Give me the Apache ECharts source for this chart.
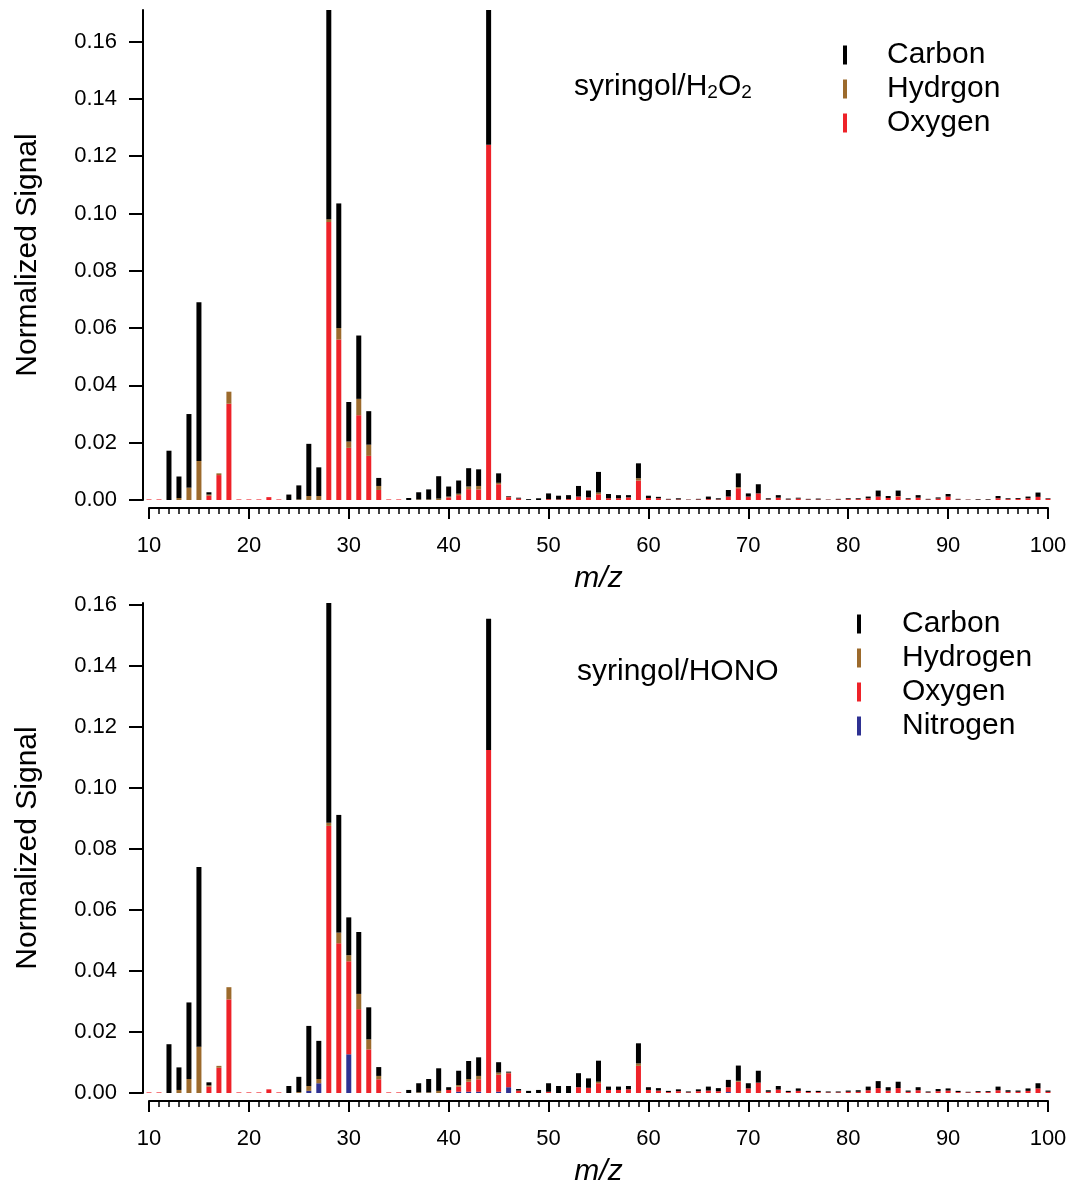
<!DOCTYPE html>
<html>
<head>
<meta charset="utf-8">
<script src="https://cdn.jsdelivr.net/npm/echarts@6/dist/echarts.min.js"></script>
<style>
html,body{margin:0;padding:0;background:#fff;}
#main{width:1073px;height:1188px;}
</style>
</head>
<body>
<div id="main"></div>
<script>
// m/z positions
var mz = [10,11,12,13,14,15,16,17,18,19,20,21,22,23,24,25,26,27,28,29,30,31,32,33,34,35,36,37,38,39,40,41,42,43,44,45,46,47,48,49,50,51,52,53,54,55,56,57,58,59,60,61,62,63,64,65,66,67,68,69,70,71,72,73,74,75,76,77,78,79,80,81,82,83,84,85,86,87,88,89,90,91,92,93,94,95,96,97,98,99,100];

// Top panel: syringol/H2O2
var h2o2_C = [0,0,0.0172,0.0075,0.0257,0.0554,0.0008,0,0,0,0,0,0,0,0.0019,0.0049,0.0182,0.0100,0.0900,0.0435,0.0138,0.0221,0.0117,0.0028,0,0,0.0007,0.0025,0.0035,0.0078,0.0035,0.0046,0.0064,0.0058,0.0800,0.0033,0.0002,0.0003,0.0003,0.0006,0.0020,0.0013,0.0014,0.0037,0.0024,0.0072,0.0015,0.0011,0.0008,0.0052,0.0008,0.0005,0.0002,0.0004,0.0001,0.0002,0.0009,0.0004,0.0023,0.0048,0.0011,0.0032,0.0004,0.0009,0.0003,0.0003,0.0002,0.0003,0.0001,0.0002,0.0003,0.0003,0.0006,0.0021,0.0007,0.0019,0.0003,0.0009,0.0002,0.0004,0.0009,0.0002,0.0001,0.0002,0.0002,0.0008,0.0003,0.0003,0.0006,0.0015,0.0002];
var h2o2_H = [0,0,0,0.0007,0.0043,0.0136,0.0004,0.0006,0.0042,0,0,0,0,0,0,0.0002,0.0014,0.0014,0.0010,0.0040,0.0022,0.0057,0.0039,0.0014,0,0,0,0.0002,0.0002,0.0005,0.0003,0.0005,0.0009,0.0012,0,0.0005,0.0002,0,0,0,0,0,0,0,0,0.0006,0,0,0,0.0008,0,0,0,0,0,0,0,0,0,0.0004,0,0,0,0,0,0,0,0,0,0,0,0,0,0,0,0.0002,0,0,0,0,0,0,0,0,0,0,0,0,0,0,0];
var h2o2_O = [0.0002,0.0002,0,0,0,0,0.0015,0.0087,0.0336,0.0002,0.0002,0.0002,0.0010,0.0002,0,0,0,0,0.0970,0.0560,0.0182,0.0296,0.0154,0.0035,0.0002,0.0002,0,0,0,0,0.0009,0.0017,0.0038,0.0037,0.1240,0.0055,0.0010,0.0005,0,0,0.0003,0.0002,0.0003,0.0012,0.0009,0.0020,0.0006,0.0006,0.0009,0.0068,0.0007,0.0006,0.0002,0.0002,0.0001,0.0002,0.0003,0.0002,0.0012,0.0041,0.0012,0.0023,0.0002,0.0008,0.0002,0.0005,0.0002,0.0002,0.0001,0.0002,0.0003,0.0003,0.0006,0.0012,0.0007,0.0012,0.0003,0.0008,0.0002,0.0005,0.0012,0.0002,0.0001,0.0001,0.0001,0.0006,0.0003,0.0004,0.0006,0.0011,0.0004];

// Bottom panel: syringol/HONO
var hono_C = [0,0,0.0160,0.0074,0.0251,0.0589,0.0010,0,0,0,0,0,0,0,0.0023,0.0050,0.0197,0.0125,0.0900,0.0386,0.0124,0.0203,0.0105,0.0029,0,0,0.0010,0.0030,0.0044,0.0074,0.0009,0.0047,0.0059,0.0061,0.0430,0.0034,0.0003,0.0005,0.0007,0.0010,0.0028,0.0023,0.0023,0.0046,0.0031,0.0069,0.0011,0.0011,0.0011,0.0066,0.0009,0.0008,0.0004,0.0006,0.0003,0.0006,0.0013,0.0010,0.0024,0.0050,0.0017,0.0039,0.0005,0.0012,0.0004,0.0008,0.0004,0.0004,0.0003,0.0003,0.0004,0.0005,0.0012,0.0023,0.0011,0.0021,0.0004,0.0010,0.0003,0.0007,0.0007,0.0004,0.0002,0.0003,0.0003,0.0012,0.0005,0.0004,0.0008,0.0017,0.0004];
var hono_H = [0,0,0,0.0010,0.0046,0.0152,0.0004,0.0006,0.0040,0,0,0,0,0,0,0.0003,0.0016,0.0014,0.0010,0.0035,0.0020,0.0050,0.0033,0.0011,0,0,0,0.0002,0.0002,0.0007,0,0.0005,0.0009,0.0011,0,0.0007,0.0002,0,0,0,0,0,0,0,0,0.0005,0,0,0,0.0008,0,0,0,0,0,0,0,0,0,0.0003,0,0,0,0,0,0,0,0,0,0,0,0,0,0,0,0,0,0,0,0,0,0,0,0,0,0,0,0,0,0,0];
var hono_O = [0.0002,0.0002,0,0,0,0,0.0021,0.0083,0.0307,0.0002,0.0002,0.0002,0.0012,0.0002,0,0,0,0,0.0876,0.0491,0.0305,0.0275,0.0143,0.0045,0.0002,0.0002,0,0,0,0,0.0010,0.0017,0.0033,0.0041,0.1125,0.0056,0.0046,0.0008,0,0,0.0004,0,0,0.0019,0.0017,0.0032,0.0010,0.0010,0.0012,0.0089,0.0010,0.0008,0.0003,0.0006,0.0002,0.0006,0.0008,0.0006,0.0016,0.0037,0.0015,0.0034,0.0004,0.0011,0.0003,0.0007,0.0003,0.0003,0.0002,0.0002,0.0004,0.0004,0.0009,0.0016,0.0008,0.0016,0.0004,0.0009,0.0002,0.0006,0.0008,0.0003,0.0002,0.0003,0.0003,0.0009,0.0004,0.0004,0.0007,0.0015,0.0004];
var hono_N = [0,0,0,0,0,0,0,0,0,0,0,0,0,0,0,0,0.0007,0.0032,0,0,0.0127,0,0,0,0,0,0,0,0,0,0,0.0004,0.0004,0.0004,0,0.0004,0.0019,0,0,0,0,0,0,0,0,0,0,0,0,0,0,0,0,0,0,0,0,0,0.0003,0,0,0,0,0,0,0,0,0,0,0,0,0,0,0,0,0,0,0,0,0,0,0,0,0,0,0,0,0,0,0,0];

var yTicks = [0,0.02,0.04,0.06,0.08,0.10,0.12,0.14,0.16];

var COL = {C:'#000000', H:'#9c6a2c', O:'#ee2229', N:'#2e3192'};
var FONT = 'Liberation Sans, Arial, Helvetica, sans-serif';

function barSeries(name, arr, color, gi, stack){
  return {
    type:'bar', name:name, data:arr, stack:stack,
    xAxisIndex:gi, yAxisIndex:gi, barWidth:5,
    itemStyle:{color:color, borderWidth:0},
    emphasis:{disabled:true}, animation:false, clip:true
  };
}

// hidden category axis carrying the bars
function catAxis(gi){
  return {type:'category', gridIndex:gi, data:mz, boundaryGap:true, show:false};
}
// visible m/z value axis drawn over the same span
function mzAxis(gi){
  return {
    type:'value', gridIndex:gi, min:10, max:100, interval:10, offset:8,
    axisLine:{show:true, onZero:false, lineStyle:{color:'#000', width:2}},
    axisTick:{show:true, length:11, inside:false, lineStyle:{color:'#000', width:2}},
    minorTick:{show:true, splitNumber:10, length:6, lineStyle:{color:'#000', width:1.5}},
    axisLabel:{margin:27, fontSize:22, color:'#000', fontFamily:FONT},
    splitLine:{show:false}, minorSplitLine:{show:false},
    name:'m/z', nameLocation:'middle', nameGap:56,
    nameTextStyle:{fontSize:30, fontStyle:'italic', color:'#000', fontFamily:FONT}
  };
}
function sigAxis(gi, max){
  return {
    type:'value', gridIndex:gi, min:0, max:max, offset:1,
    axisLine:{show:true, lineStyle:{color:'#000', width:2}},
    axisTick:{show:true, length:14, customValues:yTicks, lineStyle:{color:'#000', width:2}},
    axisLabel:{margin:26, fontSize:22, color:'#000', fontFamily:FONT, customValues:yTicks,
      formatter:function(v){ return v.toFixed(2); }},
    splitLine:{show:false},
    name:'Normalized Signal', nameLocation:'middle', nameGap:100,
    nameTextStyle:{fontSize:30, color:'#000', fontFamily:FONT}
  };
}
function hiddenY(gi, max){
  return {type:'value', gridIndex:gi, min:0, max:max, show:false, splitLine:{show:false}};
}

var legendText = {fontSize:30, color:'#000', fontFamily:FONT, lineHeight:34};

var chart = echarts.init(document.getElementById('main'), null, {renderer:'canvas'});
chart.setOption({
  backgroundColor:'#fff',
  animation:false,
  grid:[
    {left:144, width:909, top:10, height:490},   // top bars
    {left:149, right:25, top:10, height:490},    // top m/z axis
    {left:144, width:909, top:603, height:490},  // bottom bars
    {left:149, right:25, top:603, height:490}    // bottom m/z axis
  ],
  xAxis:[catAxis(0), mzAxis(1), catAxis(2), mzAxis(3)],
  yAxis:[sigAxis(0, 0.171), hiddenY(1, 0.171), sigAxis(2, 0.1607), hiddenY(3, 0.1607)],
  legend:[
    {data:['Carbon','Hydrgon','Oxygen'], orient:'vertical', left:843, top:38, padding:0,
     icon:'rect', itemWidth:4, itemHeight:19, itemGap:0, selectedMode:false,
     textStyle:Object.assign({padding:[0,0,0,35]}, legendText)},
    {data:['Carbon','Hydrogen','Oxygen','Nitrogen'], orient:'vertical', left:857, top:607, padding:0,
     icon:'rect', itemWidth:4, itemHeight:19, itemGap:0, selectedMode:false,
     textStyle:Object.assign({padding:[0,0,0,36]}, legendText)}
  ],
  graphic:[
    {type:'text', left:574, top:72, style:{
      text:'{a|syringol/H}{s|2}{a|O}{s|2}',
      rich:{a:{fontSize:30, fontFamily:FONT, fill:'#000', verticalAlign:'bottom'},
            s:{fontSize:19, fontFamily:FONT, fill:'#000', padding:[14,0,0,0], verticalAlign:'bottom'}}}},
    {type:'text', left:577, top:657, style:{text:'syringol/HONO', font:'30px '+FONT, fill:'#000'}}
  ],
  series:[
    barSeries('Oxygen', h2o2_O, COL.O, 0, 'a'),
    barSeries('Hydrgon', h2o2_H, COL.H, 0, 'a'),
    barSeries('Carbon', h2o2_C, COL.C, 0, 'a'),
    barSeries('Nitrogen', hono_N, COL.N, 2, 'b'),
    barSeries('Oxygen', hono_O, COL.O, 2, 'b'),
    barSeries('Hydrogen', hono_H, COL.H, 2, 'b'),
    barSeries('Carbon', hono_C, COL.C, 2, 'b')
  ]
});
</script>
</body>
</html>
